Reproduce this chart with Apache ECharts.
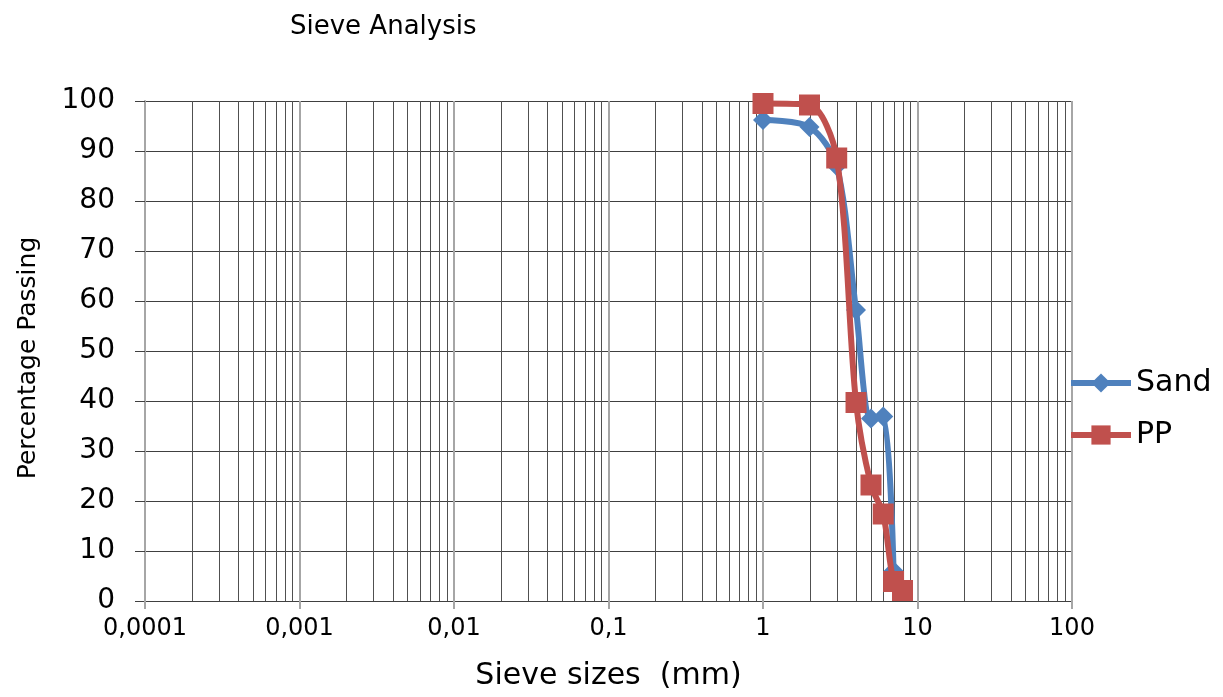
<!DOCTYPE html>
<html><head><meta charset="utf-8">
<script src="https://cdn.jsdelivr.net/npm/echarts@6/dist/echarts.min.js"></script>
<style>html,body{margin:0;padding:0;background:#fff}#c{width:1223px;height:697px}</style>
</head><body><div id="c"></div>
<script>
const sandSizes = [1, 2, 3, 4, 5, 6, 7];
const sandPassing = [96.2, 94.8, 87, 58.2, 36.5, 36.9, 6];
const ppSizes = [1, 2, 3, 4, 5, 6, 7, 8];
const ppPassing = [99.5, 99.2, 88.6, 39.7, 23.2, 17.4, 3.9, 2.1];
const xTickLabels = ['0,0001', '0,001', '0,01', '0,1', '1', '10', '100'];
const xMin = 0.0001, xMax = 100;
const yMin = 0, yMax = 100;
const minorMultipliers = [2, 3, 4, 5, 6, 7, 8, 9];
const minorExponents = [-4, -3, -2, -1, 0, 1];

const FONT = 'DejaVu Sans';
const minorValues = [];
minorExponents.forEach(e => minorMultipliers.forEach(m => {
  minorValues.push(Number((m * Math.pow(10, e)).toPrecision(6)));
}));

const chart = echarts.init(document.getElementById('c'), null, { renderer: 'canvas' });
chart.setOption({
  backgroundColor: '#fff',
  animation: false,
  title: {
    text: 'Sieve Analysis', left: 290, top: 14, padding: 0,
    textStyle: { fontFamily: FONT, fontSize: 26, fontWeight: 'normal', color: '#000' }
  },
  grid: { left: 145, right: 151, top: 101, bottom: 96, containLabel: false },
  legend: {
    orient: 'vertical', left: 1068, top: 368, padding: 0, itemWidth: 60, itemHeight: 24, itemGap: 22,
    textStyle: { fontFamily: FONT, fontSize: 30, color: '#000' },
    data: [
      { name: 'Sand', lineStyle: { width: 6 } },
      { name: 'PP', lineStyle: { width: 6 } }
    ]
  },
  xAxis: {
    type: 'log', logBase: 10, min: xMin, max: xMax,
    name: 'Sieve sizes  (mm)', nameLocation: 'middle', nameGap: 60,
    nameTextStyle: { fontFamily: FONT, fontSize: 30, color: '#000' },
    axisLine: { show: true, lineStyle: { color: '#404040', width: 1 } },
    axisTick: { show: true, length: 8, lineStyle: { color: '#a6a6a6', width: 2 } },
    axisLabel: {
      margin: 16, fontFamily: FONT, fontSize: 24, color: '#000',
      formatter: v => xTickLabels[Math.round(Math.log10(v)) + 4]
    },
    splitLine: { show: true, lineStyle: { color: '#a6a6a6', width: 2 } },
    minorTick: { show: false }, minorSplitLine: { show: false }
  },
  yAxis: {
    type: 'value', min: yMin, max: yMax, interval: 10,
    name: 'Percentage Passing', nameLocation: 'middle', nameGap: 104,
    nameTextStyle: { fontFamily: FONT, fontSize: 25, color: '#000', padding: [0, 14, 0, 0] },
    axisLine: { show: true, lineStyle: { color: '#a6a6a6', width: 2 } },
    axisTick: { show: true, length: 10, lineStyle: { color: '#404040', width: 1 } },
    axisLabel: { margin: 30, fontFamily: FONT, fontSize: 28, color: '#000' },
    splitLine: { show: true, lineStyle: { color: '#404040', width: 1 } }
  },
  series: [
    {
      name: 'minorGrid', type: 'custom', silent: true, z: 0,
      data: minorValues.map(v => [v]),
      renderItem: (params, api) => {
        const x = api.value(0);
        const p0 = api.coord([x, yMin]);
        const p1 = api.coord([x, yMax]);
        const px = Math.round(p0[0]) + 0.5;
        return {
          type: 'line',
          shape: { x1: px, y1: p0[1], x2: px, y2: p1[1] },
          style: { stroke: '#505050', lineWidth: 1 }
        };
      },
      encode: { x: 0 },
      tooltip: { show: false }
    },
    {
      name: 'Sand', type: 'line', smooth: 0.3,
      data: sandSizes.map((x, i) => [x, sandPassing[i]]),
      symbol: 'diamond', symbolSize: 20,
      itemStyle: { color: '#4f81bd' },
      lineStyle: { color: '#4f81bd', width: 6 },
      z: 3
    },
    {
      name: 'PP', type: 'line', smooth: 0.3,
      data: ppSizes.map((x, i) => [x, ppPassing[i]]),
      symbol: 'rect', symbolSize: 21,
      itemStyle: { color: '#c0504d' },
      lineStyle: { color: '#c0504d', width: 6 },
      z: 4
    }
  ]
});
</script>
</body></html>
